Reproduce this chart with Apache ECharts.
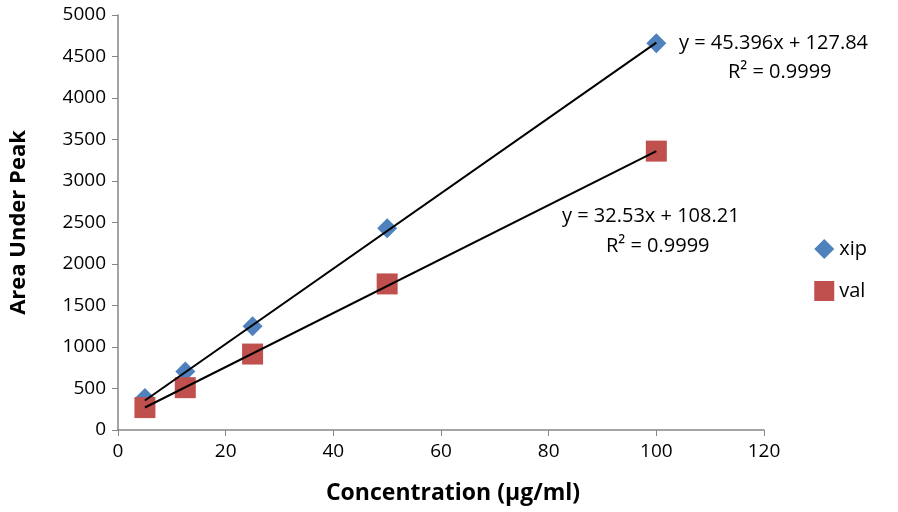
<!DOCTYPE html>
<html>
<head>
<meta charset="utf-8">
<script src="https://cdn.jsdelivr.net/npm/echarts@6/dist/echarts.min.js"></script>
<style>
  html, body { margin: 0; padding: 0; background: #fff; }
  #chart { width: 898px; height: 512px; }
</style>
</head>
<body>
<div id="chart"></div>
<script>
// 数据
var concentrations = [5, 12.5, 25, 50, 100];
var xipValues = [385, 705, 1250, 2430, 4660];
var valValues = [270, 510, 915, 1760, 3360];
// 趋势线端点 (x=5 与 x=100)
var xipTrend = [[5, 355], [100, 4667]];
var valTrend = [[5, 271], [100, 3361]];
var xipEquation = ["y = 45.396x + 127.84", "R² = 0.9999"];
var valEquation = ["y = 32.53x + 108.21", "R² = 0.9999"];

function pairs(xs, ys) {
    return xs.map(function (x, i) { return [x, ys[i]]; });
}

(function () {
    var myChart = echarts.init(document.getElementById("chart"));
    var font = "Open Sans";
    var axisColor = "#868686";

    var option = {
        backgroundColor: "#fff",
        animation: false,
        textStyle: { fontFamily: font },
        grid: { left: 116, right: 134, top: 15, bottom: 82 },
        legend: {
            orient: "vertical",
            right: 26,
            top: 234,
            itemGap: 22,
            itemWidth: 20,
            itemHeight: 20,
            data: [
                { name: "xip", icon: "diamond" },
                { name: "val", icon: "rect" }
            ],
            textStyle: { fontSize: 20, color: "#000", fontFamily: font }
        },
        xAxis: {
            type: "value",
            min: 0,
            max: 120,
            interval: 20,
            name: "Concentration (μg/ml)",
            nameLocation: "middle",
            nameGap: 52,
            nameTextStyle: { fontSize: 23, fontWeight: "bold", color: "#000", padding: [0, 0, 0, 24] },
            axisLine: { lineStyle: { color: axisColor, width: 1.5 } },
            axisTick: { lineStyle: { color: axisColor }, length: 6 },
            axisLabel: { color: "#000", fontSize: 19, margin: 12 },
            splitLine: { show: false }
        },
        yAxis: {
            type: "value",
            min: 0,
            max: 5000,
            interval: 500,
            name: "Area Under Peak",
            nameLocation: "middle",
            nameGap: 88,
            nameTextStyle: { fontSize: 22, fontWeight: "bold", color: "#000" },
            axisLine: { show: true, lineStyle: { color: axisColor, width: 1.5 } },
            axisTick: { show: true, lineStyle: { color: axisColor }, length: 6 },
            axisLabel: {
                color: "#000", fontSize: 19, margin: 12,
                formatter: function (v) { return String(v); }
            },
            splitLine: { show: false }
        },
        series: [
            {
                name: "xip trend",
                type: "line",
                data: xipTrend,
                symbol: "none",
                lineStyle: { color: "#000", width: 2 },
                z: 3
            },
            {
                name: "val trend",
                type: "line",
                data: valTrend,
                symbol: "none",
                lineStyle: { color: "#000", width: 2 },
                z: 3
            },
            {
                name: "xip",
                type: "scatter",
                symbol: "diamond",
                symbolSize: 20,
                data: pairs(concentrations, xipValues),
                itemStyle: { color: "#4F81BD", opacity: 1 },
                z: 2
            },
            {
                name: "val",
                type: "scatter",
                symbol: "rect",
                symbolSize: 21,
                data: pairs(concentrations, valValues),
                itemStyle: { color: "#C0504D", opacity: 1 },
                z: 2
            }
        ],
        graphic: [
            {
                type: "text", left: 679, top: 33,
                style: { text: xipEquation[0], fontSize: 20, fontFamily: font, fill: "#000" }
            },
            {
                type: "text", left: 728, top: 62,
                style: { text: xipEquation[1], fontSize: 20, fontFamily: font, fill: "#000" }
            },
            {
                type: "text", left: 562, top: 206,
                style: { text: valEquation[0], fontSize: 20, fontFamily: font, fill: "#000" }
            },
            {
                type: "text", left: 606, top: 236,
                style: { text: valEquation[1], fontSize: 20, fontFamily: font, fill: "#000" }
            }
        ]
    };
    myChart.setOption(option);
})();
</script>
</body>
</html>
